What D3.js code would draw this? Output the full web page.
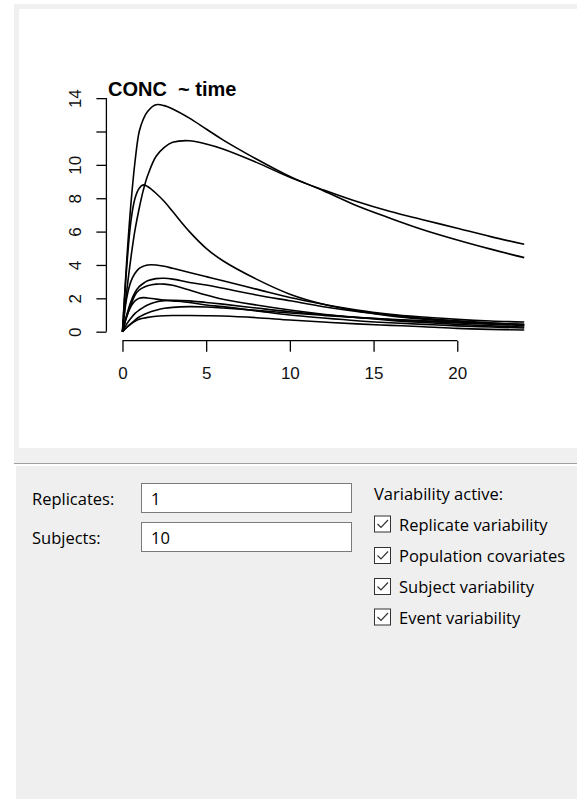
<!DOCTYPE html>
<html>
<head>
<meta charset="utf-8">
<script src="https://cdn.jsdelivr.net/npm/d3@7"></script>
<style>
  html, body { margin: 0; padding: 0; background: #fff; }
  svg { display: block; }
</style>
</head>
<body>
<svg id="app" width="577" height="799"></svg>
<script>
// Sampling times (h) shared by every simulated subject
const timeHours = [0, 0.25, 0.5, 0.75, 1, 1.25, 1.5, 2, 2.5, 3, 4, 5, 6, 8, 10, 12, 14, 16, 18, 20, 22, 24];

// Simulated concentration profiles, one array per subject
const conc01 = [0, 4.2, 7.6, 10.2, 12.0, 12.75, 13.2, 13.6, 13.55, 13.35, 12.8, 12.15, 11.5, 10.35, 9.3, 8.45, 7.55, 6.8, 6.1, 5.5, 4.95, 4.44];
const conc02 = [0, 2.4, 4.4, 6.1, 7.4, 8.5, 9.35, 10.5, 11.05, 11.35, 11.45, 11.25, 10.95, 10.15, 9.25, 8.5, 7.8, 7.2, 6.7, 6.2, 5.7, 5.24];
const conc03 = [0, 3.8, 6.6, 8.0, 8.6, 8.8, 8.7, 8.3, 7.8, 7.2, 6.0, 5.0, 4.25, 3.15, 2.25, 1.65, 1.25, 0.95, 0.75, 0.6, 0.48, 0.38];
const conc04 = [0, 2.0, 3.0, 3.5, 3.8, 3.93, 4.0, 4.0, 3.92, 3.8, 3.55, 3.3, 3.05, 2.55, 2.05, 1.65, 1.3, 1.05, 0.88, 0.74, 0.64, 0.58];
const conc05 = [0, 1.0, 1.8, 2.35, 2.7, 2.9, 3.05, 3.18, 3.2, 3.15, 2.95, 2.8, 2.6, 2.2, 1.85, 1.5, 1.22, 1.0, 0.8, 0.65, 0.53, 0.43];
const conc06 = [0, 0.9, 1.6, 2.2, 2.5, 2.65, 2.75, 2.85, 2.85, 2.78, 2.5, 2.2, 1.95, 1.6, 1.3, 1.05, 0.85, 0.68, 0.55, 0.44, 0.35, 0.28];
const conc07 = [0, 0.9, 1.5, 1.85, 2.0, 2.04, 2.02, 1.95, 1.9, 1.85, 1.75, 1.6, 1.5, 1.25, 1.0, 0.82, 0.66, 0.54, 0.44, 0.35, 0.28, 0.22];
const conc08 = [0, 0.45, 0.8, 1.1, 1.3, 1.46, 1.6, 1.78, 1.86, 1.88, 1.85, 1.75, 1.65, 1.42, 1.2, 1.02, 0.86, 0.73, 0.62, 0.53, 0.45, 0.38];
const conc09 = [0, 0.25, 0.48, 0.7, 0.88, 1.01, 1.12, 1.28, 1.4, 1.46, 1.5, 1.48, 1.42, 1.28, 1.12, 0.98, 0.85, 0.75, 0.66, 0.58, 0.5, 0.44];
const conc10 = [0, 0.25, 0.45, 0.62, 0.74, 0.81, 0.86, 0.93, 0.96, 0.97, 0.97, 0.96, 0.94, 0.84, 0.7, 0.58, 0.47, 0.38, 0.3, 0.2, 0.14, 0.1];

// Axis ticks (the 12 label is dropped, as the base graphics device does when labels crowd)
const xTickValues = [0, 5, 10, 15, 20];
const xTickLabels = ["0", "5", "10", "15", "20"];
const yTickValues = [0, 2, 4, 6, 8, 10, 12, 14];
const yTickLabels = ["0", "2", "4", "6", "8", "10", "", "14"];

// Form controls under the plot
const formFields = ["Replicates:", "Subjects:"];
const formValues = ["1", "10"];
const variabilityTitle = "Variability active:";
const variabilityOptions = ["Replicate variability", "Population covariates", "Subject variability", "Event variability"];

const subjects = [conc01, conc02, conc03, conc04, conc05, conc06, conc07, conc08, conc09, conc10]
  .map(vals => vals.map((v, i) => ({ t: timeHours[i], v })));

const svg = d3.select("#app");

// ---- window chrome ----
svg.append("rect").attr("x", 14).attr("y", 4).attr("width", 563).attr("height", 459).attr("fill", "#f0f0f0");
svg.append("rect").attr("x", 19).attr("y", 9).attr("width", 558).attr("height", 439).attr("fill", "#ffffff");
svg.append("line").attr("x1", 14).attr("x2", 577).attr("y1", 463.5).attr("y2", 463.5).attr("stroke", "#a0a0a0");
svg.append("line").attr("x1", 14).attr("x2", 577).attr("y1", 464.5).attr("y2", 464.5).attr("stroke", "#ffffff");
svg.append("rect").attr("x", 16).attr("y", 466).attr("width", 561).attr("height", 333).attr("fill", "#efefef");

// ---- plot ----
const x = d3.scaleLinear().domain([-0.96, 24.96]).range([106.4, 540.3]);
const y = d3.scaleLinear().domain([-0.54, 14.14]).range([340.7, 95.8]);

const axisFont = "'Liberation Sans', Arial, sans-serif";

const plot = svg.append("g");

const line = d3.line()
  .x(d => x(d.t))
  .y(d => y(d.v))
  .curve(d3.curveCatmullRom.alpha(0.5));

plot.append("g")
  .selectAll("path")
  .data(subjects)
  .join("path")
  .attr("d", line)
  .attr("fill", "none")
  .attr("stroke", "#000")
  .attr("stroke-width", 1.6)
  .attr("stroke-linejoin", "round");

// x axis: line spans the first to last tick
const xAxis = plot.append("g")
  .attr("transform", `translate(0,${y(-0.54)})`)
  .call(d3.axisBottom(x).tickValues(xTickValues)
    .tickFormat((d, i) => xTickLabels[i]).tickSize(11).tickPadding(15).tickSizeOuter(0));
xAxis.select(".domain").remove();
xAxis.append("line")
  .attr("x1", x(xTickValues[0])).attr("x2", x(xTickValues[xTickValues.length - 1]))
  .attr("stroke", "#000").attr("stroke-width", 1.3);
xAxis.selectAll(".tick line").attr("stroke", "#000").attr("stroke-width", 1.3);
xAxis.selectAll(".tick text")
  .attr("fill", "#111").style("font-family", axisFont).style("font-size", "17px");

// y axis with labels turned parallel to the axis
const yAxis = plot.append("g")
  .attr("transform", `translate(${x(-0.96)},0)`)
  .call(d3.axisLeft(y).tickValues(yTickValues)
    .tickFormat((d, i) => yTickLabels[i]).tickSize(10).tickSizeOuter(0));
yAxis.select(".domain").remove();
yAxis.append("line")
  .attr("y1", y(yTickValues[0])).attr("y2", y(yTickValues[yTickValues.length - 1]))
  .attr("stroke", "#000").attr("stroke-width", 1.3);
yAxis.selectAll(".tick line").attr("stroke", "#000").attr("stroke-width", 1.3);
yAxis.selectAll(".tick text")
  .attr("x", null).attr("dy", null)
  .attr("transform", "translate(-31,0) rotate(-90)")
  .attr("text-anchor", "middle")
  .attr("dominant-baseline", "central")
  .attr("fill", "#111")
  .style("font-family", axisFont).style("font-size", "17px");

// title
plot.append("text")
  .attr("x", 108).attr("y", 96)
  .attr("fill", "#000")
  .style("font-family", axisFont).style("font-size", "20px").style("font-weight", "bold")
  .attr("xml:space", "preserve")
  .style("white-space", "pre")
  .text("CONC  ~ time");

// ---- form ----
const uiFont = "'Open Sans', 'Noto Sans', sans-serif";
const form = svg.append("g").style("font-family", uiFont).style("font-size", "16.5px").attr("fill", "#000");

const rowCenters = [498, 537];
formFields.forEach((label, i) => {
  form.append("text").attr("x", 32).attr("y", rowCenters[i]).attr("dominant-baseline", "central").text(label);
  form.append("rect").attr("x", 141.5).attr("y", rowCenters[i] - 14.5).attr("width", 210).attr("height", 29)
    .attr("fill", "#fff").attr("stroke", "#7a7a7a");
  form.append("text").attr("x", 151).attr("y", rowCenters[i]).attr("dominant-baseline", "central").text(formValues[i]);
});

form.append("text").attr("x", 374).attr("y", 493).attr("dominant-baseline", "central").text(variabilityTitle);

const checkCenters = [524, 555.5, 586.5, 617];
variabilityOptions.forEach((label, i) => {
  const cy = checkCenters[i];
  form.append("rect").attr("x", 374.5).attr("y", cy - 8).attr("width", 16).attr("height", 16)
    .attr("fill", "#fff").attr("stroke", "#333");
  form.append("path")
    .attr("d", `M${377.5},${cy} L${381},${cy + 3.5} L${388},${cy - 4}`)
    .attr("fill", "none").attr("stroke", "#333").attr("stroke-width", 1.2);
  form.append("text").attr("x", 399).attr("y", cy).attr("dominant-baseline", "central").text(label);
});
</script>
</body>
</html>
